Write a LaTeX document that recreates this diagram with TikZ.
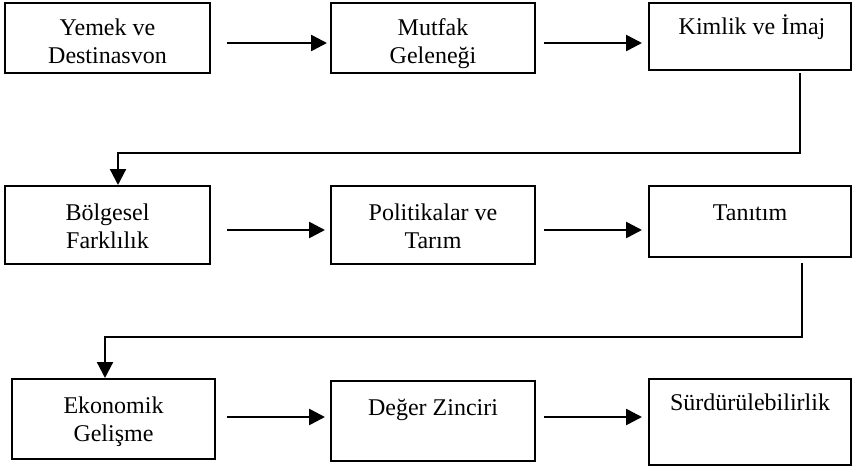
\documentclass[tikz,border=0pt]{standalone}
\usepackage{fontspec}
\setmainfont{Liberation Serif}
\usetikzlibrary{arrows.meta}
\begin{document}
\begin{tikzpicture}[x=0.5pt,y=-0.5pt,
  box/.style={draw=black, line width=1.2pt, anchor=north west, inner sep=0pt, outer sep=0pt},
  lbl/.style={anchor=base, align=center, inner sep=0pt, font=\fontsize{12pt}{14pt}\selectfont},
  arr/.style={draw=black, line width=1.3pt, -{Triangle[length=8pt,width=8pt]}},
  link/.style={draw=black, line width=1.1pt, -{Triangle[length=8pt,width=8pt]}}
]
\useasboundingbox (0,0) rectangle (852,467);
\fill[white] (0,0) rectangle (852,467);

% row 1
\node[box, minimum width=102.5pt, minimum height=35pt] (a) at (5,3) {};
\node[box, minimum width=102pt, minimum height=35pt] (b) at (331,3) {};
\node[box, minimum width=101pt, minimum height=33.5pt] (c) at (649,3) {};
% row 2
\node[box, minimum width=102.5pt, minimum height=39pt] (d) at (5,186) {};
\node[box, minimum width=102pt, minimum height=39pt] (e) at (331,186) {};
\node[box, minimum width=101pt, minimum height=35.5pt] (f) at (649,186) {};
% row 3
\node[box, minimum width=101.5pt, minimum height=40pt] (g) at (12,379) {};
\node[box, minimum width=102pt, minimum height=40pt] (h) at (331,381) {};
\node[box, minimum width=101pt, minimum height=43pt] (i) at (649,379) {};

% labels (anchor base = last line's baseline)
\node[lbl] (ta) at (107.5,63) {Yemek ve\\Destinasvon};
\node[lbl] (tb) at (433,63) {Mutfak\\Geleneği};
\node[lbl] (tc) at (752,34) {Kimlik ve İmaj};
\node[lbl] (td) at (107.5,248) {Bölgesel\\Farklılık};
\node[lbl] (te) at (433,248) {Politikalar ve\\Tarım};
\node[lbl] (tf) at (750,220) {Tanıtım};
\node[lbl] (tg) at (113.5,441) {Ekonomik\\Gelişme};
\node[lbl] (th) at (433,415) {Değer Zinciri};
\node[lbl] (ti) at (750,410) {Sürdürülebilirlik};

% horizontal arrows
\draw[arr, shorten <=8.5pt, shorten >=2pt] (a.east |- 0,43) -- (b.west |- 0,43);
\draw[arr, shorten <=4.5pt, shorten >=3.5pt] (b.east |- 0,43) -- (c.west |- 0,43);
\draw[arr, shorten <=8.5pt, shorten >=3pt] (d.east |- 0,230) -- (e.west |- 0,230);
\draw[arr, shorten <=4.5pt, shorten >=3.5pt] (e.east |- 0,230) -- (f.west |- 0,230);
\draw[arr, shorten <=6pt, shorten >=3pt] (g.east |- 0,417) -- (h.west |- 0,417);
\draw[arr, shorten <=4.5pt, shorten >=3.5pt] (h.east |- 0,417) -- (i.west |- 0,417);

% return connectors between rows
\coordinate (r1) at (800,153);
\coordinate (r2) at (802,337);
\draw[link, shorten <=1.5pt, shorten >=0.5pt] (c.south -| r1) -- (r1) -| (d.north -| 118,0);
\draw[link, shorten <=3pt, shorten >=0.5pt] (f.south -| r2) -- (r2) -| (g.north -| 105,0);
\end{tikzpicture}
\end{document}
